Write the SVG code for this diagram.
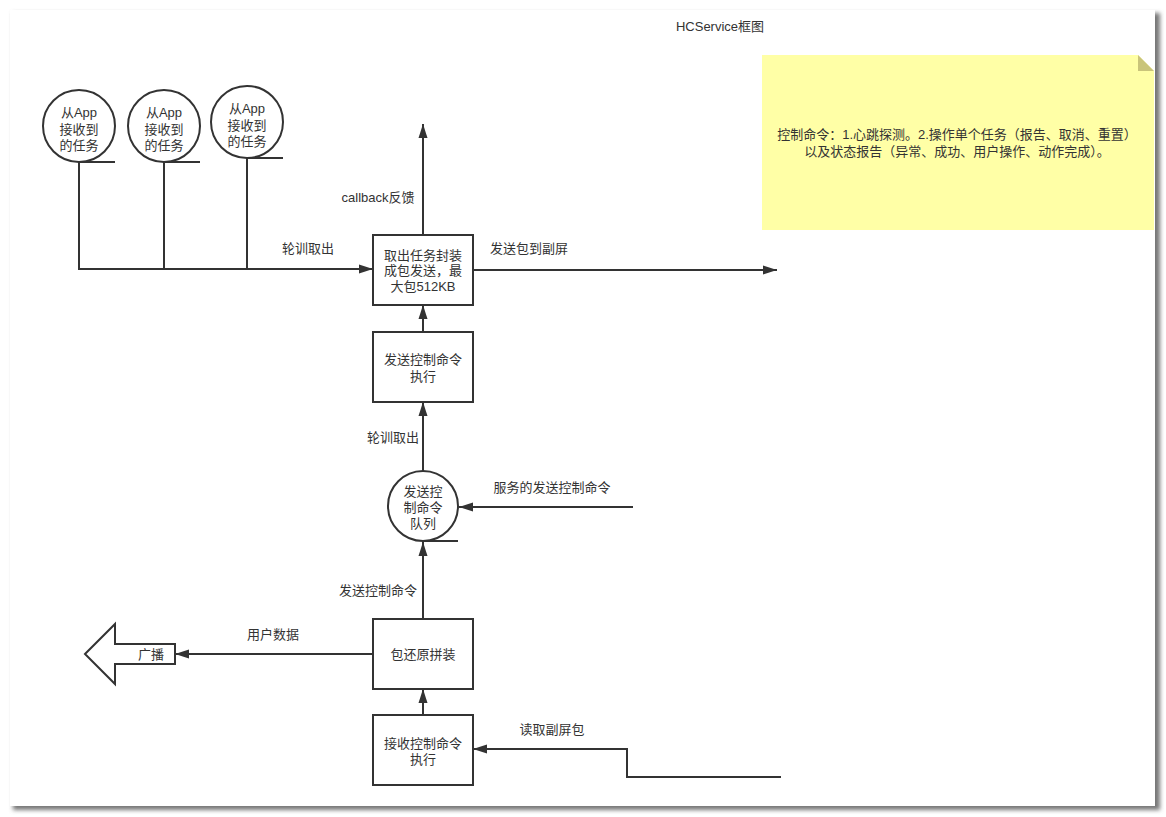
<svg xmlns="http://www.w3.org/2000/svg" width="1166" height="817" viewBox="0 0 1166 817">
<defs>
<filter id="sh" x="-5%" y="-5%" width="110%" height="110%"><feGaussianBlur stdDeviation="2"/></filter>
<marker id="ahb" viewBox="0 0 14 10" refX="14" refY="5" markerWidth="14" markerHeight="10" markerUnits="userSpaceOnUse" orient="auto"><path d="M0,0.5 L14,5 L0,9.5 Z" fill="#333"/></marker>
</defs>
<style>
.t{font-family:"Liberation Sans","Noto Sans CJK SC",sans-serif;font-size:13px;fill:#333;text-anchor:middle}
.s{fill:#fff;stroke:#333;stroke-width:2}
.c{fill:none;stroke:#333;stroke-width:2}
</style>
<rect x="0" y="0" width="1166" height="817" fill="#fff"/>
<rect x="13" y="13" width="1147" height="797" fill="#777" filter="url(#sh)"/>
<rect x="10" y="10" width="1145" height="796" fill="#fff"/>
<text class="t" x="720" y="31" font-size="14">HCService框图</text>
<g id="note">
<path d="M762,55 H1138 L1154,71 V230 H762 Z" fill="#ffffa6"/>
<path d="M1138,55 L1154,71 H1138 Z" fill="#c9c47a"/>
<text class="t" x="957" y="139" font-size="13">控制命令：1.心跳探测。2.操作单个任务（报告、取消、重置）</text>
<text class="t" x="957" y="156" font-size="13">以及状态报告（异常、成功、用户操作、动作完成）。</text>
</g>
<g id="connectors">
<path class="c" d="M79,162 V269 H373" marker-end="url(#ahb)"/>
<path class="c" d="M164,162 V269"/>
<path class="c" d="M247,158 V269"/>
<path class="c" d="M423,235 V124" marker-end="url(#ahb)"/>
<path class="c" d="M473,270 H777" marker-end="url(#ahb)"/>
<path class="c" d="M423,332 V305" marker-end="url(#ahb)"/>
<path class="c" d="M423,471 V402" marker-end="url(#ahb)"/>
<path class="c" d="M633,507 H459" marker-end="url(#ahb)"/>
<path class="c" d="M423,619 V542" marker-end="url(#ahb)"/>
<path class="c" d="M423,715 V689" marker-end="url(#ahb)"/>
<path class="c" d="M781,777 H627 V749 H473" marker-end="url(#ahb)"/>
<path class="c" d="M373,654 H175" marker-end="url(#ahb)"/>
<text class="t" x="308" y="253">轮训取出</text>
<text class="t" x="378" y="202">callback反馈</text>
<text class="t" x="529" y="253">发送包到副屏</text>
<text class="t" x="393" y="442">轮训取出</text>
<text class="t" x="552" y="492">服务的发送控制命令</text>
<text class="t" x="378" y="595">发送控制命令</text>
<text class="t" x="273" y="639">用户数据</text>
<text class="t" x="552" y="734">读取副屏包</text>
</g>
<g id="app1">
<circle class="s" cx="79" cy="126" r="36"/>
<path class="c" d="M79,162 H115"/>
<text class="t" x="79" y="117" font-size="14">从App</text>
<text class="t" x="79" y="134" font-size="14">接收到</text>
<text class="t" x="79" y="150" font-size="14">的任务</text>
</g>
<g id="app2">
<circle class="s" cx="164" cy="126" r="36"/>
<path class="c" d="M164,162 H200"/>
<text class="t" x="164" y="117" font-size="14">从App</text>
<text class="t" x="164" y="134" font-size="14">接收到</text>
<text class="t" x="164" y="150" font-size="14">的任务</text>
</g>
<g id="app3">
<circle class="s" cx="247" cy="122" r="36"/>
<path class="c" d="M247,158 H283"/>
<text class="t" x="247" y="113" font-size="14">从App</text>
<text class="t" x="247" y="130" font-size="14">接收到</text>
<text class="t" x="247" y="146" font-size="14">的任务</text>
</g>
<g id="pack">
<rect class="s" x="373" y="235" width="100" height="70"/>
<text class="t" x="423" y="260">取出任务封装</text>
<text class="t" x="423" y="275">成包发送，最</text>
<text class="t" x="423" y="291">大包512KB</text>
</g>
<g id="sendexec">
<rect class="s" x="373" y="332" width="100" height="70"/>
<text class="t" x="423" y="364">发送控制命令</text>
<text class="t" x="423" y="381">执行</text>
</g>
<g id="queue">
<circle class="s" cx="423" cy="506" r="35"/>
<path class="c" d="M423,541 H458"/>
<text class="t" x="423" y="496">发送控</text>
<text class="t" x="423" y="512">制命令</text>
<text class="t" x="423" y="528">队列</text>
</g>
<g id="restore">
<rect class="s" x="373" y="619" width="100" height="70"/>
<text class="t" x="423" y="659">包还原拼装</text>
</g>
<g id="recvexec">
<rect class="s" x="373" y="715" width="100" height="70"/>
<text class="t" x="423" y="748">接收控制命令</text>
<text class="t" x="423" y="764">执行</text>
</g>
<g id="broadcast">
<path class="s" d="M85,654 L115,624 V644 H175 V664 H115 V684 Z"/>
<text class="t" x="151" y="659">广播</text>
</g>
</svg>
